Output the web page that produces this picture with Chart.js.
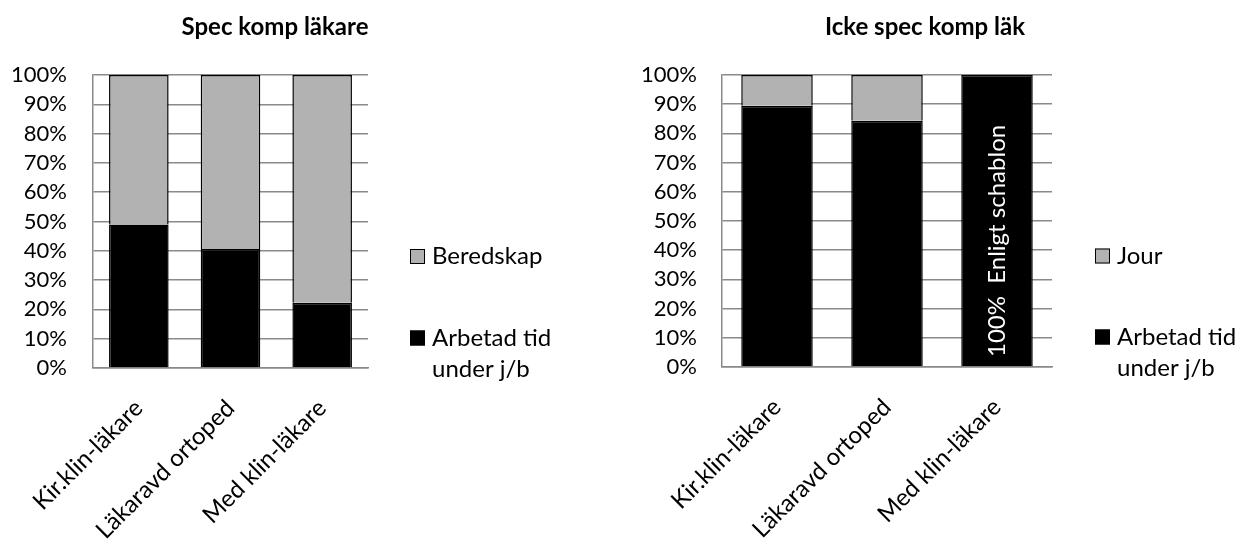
<!DOCTYPE html>
<html lang="sv">
<head>
<meta charset="utf-8">
<title>Komp läkare – fördelning</title>
<script src="https://cdn.jsdelivr.net/npm/chart.js@4/dist/chart.umd.min.js"></script>
<style>
  html, body { margin: 0; padding: 0; background: #fff; }
  #wrap { position: relative; width: 1240px; height: 543px; overflow: hidden; }
  .pane { position: absolute; top: 0; width: 620px; height: 543px; }
  #paneLeft { left: 0; }
  #paneRight { left: 620px; }
</style>
</head>
<body>
<div id="wrap">
  <div class="pane" id="paneLeft"><canvas id="chartSpec" width="620" height="543"></canvas></div>
  <div class="pane" id="paneRight"><canvas id="chartIcke" width="620" height="543"></canvas></div>
</div>
<script>
// Kategorier (personalgrupper)
const categories = ['Kir.klin-läkare', 'Läkaravd ortoped', 'Med klin-läkare'];

// Spec komp läkare: andel (%) arbetad tid under jour/beredskap respektive beredskap
const specArbetad = [49.0, 40.6, 22.3];
const specBeredskap = [51.0, 59.4, 77.7];

// Icke spec komp läk: andel (%) arbetad tid under jour/beredskap respektive jour
const ickeArbetad = [89.5, 84.3, 100];
const ickeJour = [10.5, 15.7, 0];

// Rubriker, serienamn och etiketter
const titles = ['Spec komp läkare', 'Icke spec komp läk'];
const arbetadLabel = ['Arbetad tid', 'under j/b'];
const specOtherLabel = 'Beredskap';
const ickeOtherLabel = 'Jour';
const barNote = '100%  Enligt schablon';
const yTicks = [0, 10, 20, 30, 40, 50, 60, 70, 80, 90, 100];

const FONT = 'Lato, "Open Sans", "DejaVu Sans", sans-serif';
const GRID = '#8a8a8a';
const GREY = '#b2b2b2';

Chart.defaults.font.family = FONT;
Chart.defaults.color = '#000';

// Rubrik, förklaring och text i stapeln ritas av ett eget insticksprogram
const decorations = {
  id: 'decorations',
  afterDraw(chart, args, opts) {
    const ctx = chart.ctx;
    ctx.save();
    // rubrik
    ctx.font = 'bold 24px ' + FONT;
    ctx.fillStyle = '#000';
    ctx.textAlign = 'center';
    ctx.textBaseline = 'middle';
    ctx.fillText(opts.title, opts.titleX, opts.titleY);

    // förklaring: grå serie överst, svart serie under
    const ds = chart.data.datasets;
    const items = [ds[1], ds[0]];
    const rows = [opts.legendY1, opts.legendY2];
    ctx.font = '24px ' + FONT;
    ctx.textAlign = 'left';
    items.forEach((d, i) => {
      const y = rows[i];
      ctx.fillStyle = d.backgroundColor;
      ctx.fillRect(opts.legendX, y - 7.5, 15, 15);
      ctx.strokeStyle = '#000';
      ctx.lineWidth = 1;
      ctx.strokeRect(opts.legendX + 0.5, y - 7, 14, 14);
      ctx.fillStyle = '#000';
      const lines = Array.isArray(d.label) ? d.label : [d.label];
      lines.forEach((t, k) => ctx.fillText(t, opts.legendX + 22, y + k * 31));
    });

    // lodrät text i tredje stapeln, läses nedifrån och upp
    if (opts.note) {
      const bar = chart.getDatasetMeta(0).data[opts.noteIndex];
      const yScale = chart.scales.y;
      ctx.translate(bar.x, yScale.getPixelForValue(0) - 10);
      ctx.rotate(-Math.PI / 2);
      ctx.font = '24px ' + FONT;
      ctx.fillStyle = '#fff';
      ctx.textAlign = 'left';
      ctx.textBaseline = 'middle';
      ctx.fillText(opts.note, 0, 0);
    }
    ctx.restore();
  }
};

function makeChart(canvasId, blackData, greyData, greyLabel, geom, deco) {
  return new Chart(document.getElementById(canvasId), {
    type: 'bar',
    data: {
      labels: categories,
      datasets: [
        {
          label: arbetadLabel,
          data: blackData,
          backgroundColor: '#000',
          borderColor: '#000',
          borderWidth: 1.5,
          barPercentage: 0.65,
          categoryPercentage: 1
        },
        {
          label: greyLabel,
          data: greyData,
          backgroundColor: GREY,
          borderColor: '#000',
          borderWidth: 1.5,
          barPercentage: 0.65,
          categoryPercentage: 1
        }
      ]
    },
    options: {
      responsive: false,
      maintainAspectRatio: false,
      devicePixelRatio: 1,
      animation: false,
      layout: { padding: { top: geom.top, right: geom.right, bottom: 0, left: 0 } },
      plugins: {
        legend: { display: false },
        title: { display: false },
        tooltip: { enabled: false },
        decorations: deco
      },
      scales: {
        x: {
          stacked: true,
          grid: { display: false },
          border: { display: true, color: GRID, width: 1.5 },
          ticks: {
            font: { size: 24 },
            color: '#000',
            minRotation: 45,
            maxRotation: 45,
            autoSkip: false,
            padding: 18
          },
          afterFit(scale) {
            scale.height = geom.xHeight;
            scale.paddingLeft = 0;
            scale.paddingRight = 0;
          }
        },
        y: {
          stacked: true,
          min: 0,
          max: 100,
          afterBuildTicks(scale) { scale.ticks = yTicks.map(v => ({ value: v })); },
          grid: { color: GRID, lineWidth: 1.5, drawTicks: false },
          border: { display: true, color: GRID, width: 1.5 },
          ticks: {
            font: { size: 22 },
            color: '#000',
            autoSkip: false,
            padding: geom.tickPad,
            callback: v => v + '%'
          },
          afterFit(scale) {
            scale.width = geom.yWidth;
            scale.paddingTop = 0;
            scale.paddingBottom = 0;
          }
        }
      }
    },
    plugins: [decorations]
  });
}

function draw() {
  makeChart('chartSpec', specArbetad, specBeredskap, specOtherLabel,
    { top: 75, right: 252, xHeight: 175, yWidth: 93, tickPad: 26 },
    { title: titles[0], titleX: 275, titleY: 27,
      legendX: 410, legendY1: 256.5, legendY2: 338 });

  makeChart('chartIcke', ickeArbetad, ickeJour, ickeOtherLabel,
    { top: 75, right: 188, xHeight: 176, yWidth: 102, tickPad: 25 },
    { title: titles[1], titleX: 305, titleY: 27,
      legendX: 475, legendY1: 256, legendY2: 337,
      note: barNote, noteIndex: 2 });
}

if (document.fonts && document.fonts.load) {
  Promise.all([document.fonts.load('22px Lato'), document.fonts.load('bold 24px Lato')])
    .then(draw, draw);
} else {
  draw();
}
</script>
</body>
</html>
